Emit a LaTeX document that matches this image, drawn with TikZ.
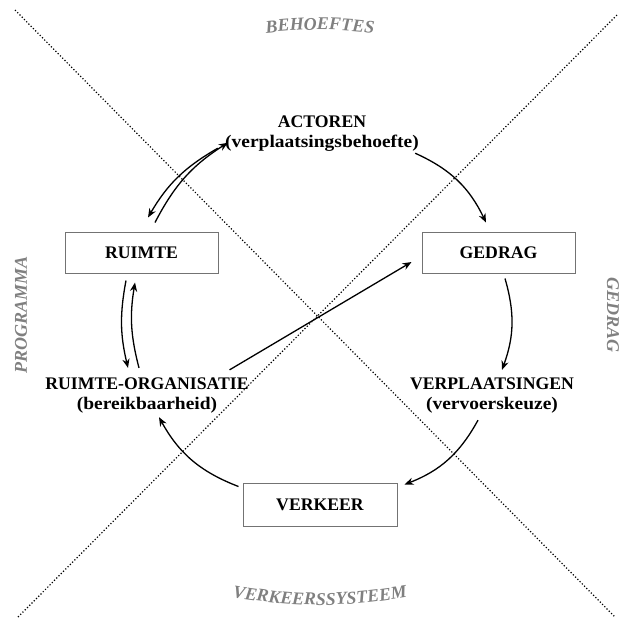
\documentclass[tikz,border=0pt]{standalone}
\usepackage{fontspec}
\setmainfont{Liberation Serif}
\newfontfamily\breed[FakeStretch=1.1]{Liberation Serif}
\usetikzlibrary{arrows.meta}
\usetikzlibrary{decorations.text}
\newcommand\zijfont{\fontsize{9}{10}\selectfont\bfseries\itshape}
\tikzstyle{blok}=[draw=black!55, line width=0.5pt, inner sep=0pt, minimum width=76.5pt, minimum height=20.5pt, font=\fontsize{8.85}{10}\selectfont\bfseries]
\tikzstyle{tekst}=[align=center, inner sep=0pt, font=\fontsize{8.85}{10}\selectfont\bfseries]
\tikzstyle{pijl}=[line width=0.65pt, -{Stealth[length=4.5pt,width=3.6pt]}]
\tikzstyle{diag}=[line width=0.6pt, dash pattern=on 0.6pt off 1pt]
\tikzstyle{zij}=[inner sep=0pt, text=black!50, font=\zijfont]

\begin{document}
\begin{tikzpicture}[x=0.5pt, y=-0.5pt]
        \useasboundingbox (0,0) rectangle (619,618);
        \draw[diag] (15,10) -- (615,617);
        \draw[diag] (18,617) -- (617,15);
        \path[decorate, decoration={text along path, text align=center, text color=black!50, text={|\zijfont|BEHOEFTES}}] (220,40) to[bend left=10] (420,40);
        \path[decorate, decoration={text along path, text align=center, text color=black!50, text={|\zijfont|VERKEERSSYSTEEM}}] (220,595) to[bend right=10] (420,595);
        \node[zij, rotate=-90] (zijR) at (613,315) {GEDRAG};
        \node[zij, rotate=90] (zijL) at (21,315) {PROGRAMMA};
        \node[tekst] (Act) at (322,134) {ACTOREN\\{\breed(verplaatsingsbehoefte)}};
        \node[blok] (Ruim) at (141.5,252.5) {RUIMTE};
        \node[blok] (Gedr) at (498.5,252.5) {GEDRAG};
        \node[tekst] (RuimOrg) at (147,396) {RUIMTE-ORGANISATIE\\{\breed(bereikbaarheid)}};
        \node[tekst] (Verpl) at (492,396) {VERPLAATSINGEN\\{\breed(vervoerskeuze)}};
        \node[blok, minimum width=77pt, minimum height=21.5pt] (Verk) at (320,504.5) {VERKEER};
        \draw[pijl] ([shift={(-4,1)}]Act.south east) to[bend left=20] ([shift={(-12.5,-9)}]Gedr.north);
        \draw[pijl] ([shift={(6.5,5)}]Gedr.south) to[bend left=18] ([shift={(10,-8)}]Verpl.north);
        \draw[pijl] ([shift={(-14,6)}]Verpl.south) to[bend left=20] ([shift={(7,2)}]Verk.north east);
        \draw[pijl] ([shift={(-4,4)}]Verk.north west) to[bend left=20] ([shift={(12,3)}]RuimOrg.south);
        \draw[pijl] ([shift={(-15.5,7)}]Ruim.south) to[bend right=12] ([shift={(-19,-10)}]RuimOrg.north);
        \draw[pijl] ([shift={(-8,-10)}]RuimOrg.north) to[bend left=12] ([shift={(-6.5,9)}]Ruim.south);
        \draw[pijl] ([shift={(-7,-4)}]Act.south west) to[bend right=15] ([shift={(6.5,-14)}]Ruim.north);
        \draw[pijl] ([shift={(13.5,-9)}]Ruim.north) to[bend left=15] ([shift={(3,-9.5)}]Act.south west);
        \draw[pijl] ([shift={(-19.5,-8)}]RuimOrg.north east) -- ([shift={(-10,9.5)}]Gedr.west);
    \end{tikzpicture}
\end{document}
